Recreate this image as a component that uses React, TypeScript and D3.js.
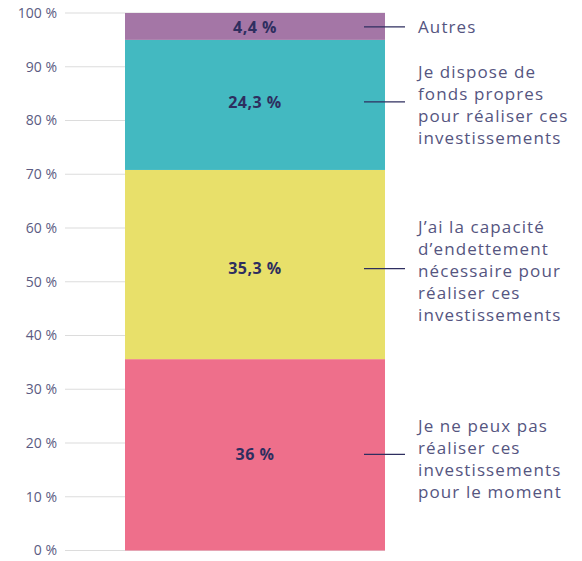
import React from "react";
import * as d3 from "d3";

const categories = [
  "Je ne peux pas|réaliser ces|investissements|pour le moment",
  "J’ai la capacité|d’endettement|nécessaire pour|réaliser ces|investissements",
  "Je dispose de|fonds propres|pour réaliser ces|investissements",
  "Autres",
];
// segment heights as drawn in the picture (percent)
const values = [35.6, 35.2, 24.2, 5.0];
const valueLabels = ["36 %", "35,3 %", "24,3 %", "4,4 %"];
const colors = ["#ee6f8b", "#e8e06a", "#43b9c1", "#a476a6"];
const ticks = [0, 10, 20, 30, 40, 50, 60, 70, 80, 90, 100];

export default function App() {
  const W = 582, H = 561;
  const y = d3.scaleLinear().domain([0, 100]).range([550.5, 13]);
  const x = d3.scaleBand().domain(["all"]).range([125, 385]).padding(0);
  const bx = x("all")!;
  const bw = x.bandwidth();
  let acc = 0;
  const segs = values.map((v, i) => {
    const s = { y0: acc, y1: acc + v, v, i };
    acc += v;
    return s;
  });
  const font = "'Open Sans', sans-serif";
  const leaderOff = [-0.5, 4, -3, 0.5];
  const textOff = [5, 2, 3.5, 0];
  return (
    <svg width={W} height={H} style={{ position: "absolute", left: 0, top: 0 }}>
      <rect width={W} height={H} fill="#fff" />
      {ticks.map((t) => (
        <g key={t}>
          <line x1={65} x2={385} y1={y(t)} y2={y(t)} stroke="#dcdcdc" strokeWidth={1.2} />
          <text x={57} y={y(t)} dy="0.35em" textAnchor="end" fontSize={14} fill="#5b5b82" fontFamily={font}>
            {t} %
          </text>
        </g>
      ))}
      {segs.map((s) => (
        <rect key={s.i} x={bx} width={bw} y={y(s.y1)} height={y(s.y0) - y(s.y1)} fill={colors[s.i]} />
      ))}
      {segs.map((s) => (
        <text key={"v" + s.i} x={bx + bw / 2} y={(y(s.y0) + y(s.y1)) / 2 + leaderOff[s.i]} dy="0.36em" textAnchor="middle"
          fontSize={16} fontWeight={700} fill="#2e2e5f" fontFamily={font} letterSpacing={0.5}>
          {valueLabels[s.i]}
        </text>
      ))}
      {segs.map((s) => {
        const my = (y(s.y0) + y(s.y1)) / 2 + leaderOff[s.i];
        const lines = categories[s.i].split("|");
        const lh = 22;
        const startY = my + textOff[s.i] - ((lines.length - 1) * lh) / 2;
        return (
          <g key={"l" + s.i}>
            <line x1={364} x2={405} y1={my} y2={my} stroke="#2e2e5f" strokeWidth={1.3} />
            <text x={418} fontSize={17} fill="#55557f" fontFamily={font} letterSpacing={1.1}>
              {lines.map((l, k) => (
                <tspan key={k} x={418} y={startY + k * lh} dy="0.35em">{l}</tspan>
              ))}
            </text>
          </g>
        );
      })}
    </svg>
  );
}
